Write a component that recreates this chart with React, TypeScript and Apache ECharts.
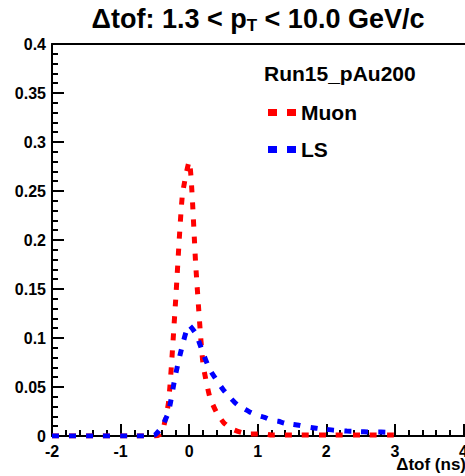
import React, { useEffect, useRef } from "react";
import * as echarts from "echarts";

const X_VALUES = [-2.0, -1.9, -1.8, -1.7, -1.6, -1.5, -1.4, -1.3, -1.2, -1.1, -1.0, -0.9, -0.8, -0.7, -0.6, -0.5, -0.4, -0.3, -0.2, -0.1, 0.0, 0.1, 0.2, 0.3, 0.4, 0.5, 0.6, 0.7, 0.8, 0.9, 1.0, 1.1, 1.2, 1.3, 1.4, 1.5, 1.6, 1.7, 1.8, 1.9, 2.0, 2.1, 2.2, 2.3, 2.4, 2.5, 2.6, 2.7, 2.8, 2.9, 3.0];

const MUON = [0, 0, 0, 0, 0, 0, 0, 0, 0, 0, 0, 0, 0, 0, 0, 0, 0.003, 0.035, 0.135, 0.245, 0.28, 0.17, 0.075, 0.04, 0.024, 0.014, 0.008, 0.005, 0.003, 0.002, 0.002, 0.002, 0.001, 0.001, 0.001, 0.001, 0.001, 0.001, 0.001, 0.001, 0.001, 0.001, 0.001, 0.001, 0.001, 0.001, 0.001, 0.001, 0.001, 0.001, 0.001];

const LS = [0, 0, 0, 0, 0, 0, 0, 0, 0, 0, 0, 0, 0, 0, 0, 0.001, 0.009, 0.025, 0.062, 0.092, 0.113, 0.104, 0.085, 0.068, 0.057, 0.047, 0.039, 0.032, 0.028, 0.024, 0.021, 0.019, 0.016, 0.015, 0.013, 0.012, 0.011, 0.0095, 0.0085, 0.0075, 0.0068, 0.006, 0.0055, 0.005, 0.0047, 0.0044, 0.0042, 0.004, 0.004, 0.0038, 0.0035];

const SERIES_NAMES = ["Muon", "LS"];
const LEGEND_HEADER = "Run15_pAu200";
const X_AXIS_TITLE = "Δtof (ns)";

const X_MIN = -2;
const X_MAX = 5;
const Y_MIN = 0;
const Y_MAX = 0.4;

const FONT = "'Liberation Sans', Arial, Helvetica, sans-serif";

export default function App() {
  const ref = useRef<HTMLDivElement>(null);
  useEffect(() => {
    if (!ref.current) return;
    const chart = echarts.init(ref.current, undefined, { renderer: "svg" });
    const pair = (ys: number[]) => X_VALUES.map((x, i) => [x, ys[i]]);
    const icon = "path://M0,0h9v7h-9z M19,0h9v7h-9z";
    const tickStyle = { color: "#000", width: 2 };

    chart.setOption({
      animation: false,
      backgroundColor: "#ffffff",
      textStyle: { fontFamily: FONT },
      grid: { left: 52, top: 44, width: 480, height: 392 },
      xAxis: [
        {
          type: "value",
          min: X_MIN,
          max: X_MAX,
          interval: 1,
          position: "bottom",
          axisLine: { show: true, onZero: false, lineStyle: { color: "#000", width: 2 } },
          axisTick: { show: true, inside: true, length: 12, lineStyle: tickStyle },
          minorTick: { show: true, splitNumber: 5, length: 6, lineStyle: tickStyle },
          splitLine: { show: false },
          axisLabel: { color: "#000", fontWeight: "bold", fontSize: 16, fontFamily: FONT, margin: 7 },
        },
        {
          type: "value",
          min: X_MIN,
          max: X_MAX,
          position: "top",
          axisLine: { show: true, onZero: false, lineStyle: { color: "#000", width: 2 } },
          axisTick: { show: false },
          axisLabel: { show: false },
          splitLine: { show: false },
        },
      ],
      yAxis: {
        type: "value",
        min: Y_MIN,
        max: Y_MAX,
        interval: 0.05,
        axisLine: { show: true, onZero: false, lineStyle: { color: "#000", width: 2 } },
        axisTick: { show: true, inside: true, length: 12, lineStyle: tickStyle },
        minorTick: { show: true, splitNumber: 5, length: 6, lineStyle: tickStyle },
        splitLine: { show: false },
        axisLabel: { color: "#000", fontWeight: "bold", fontSize: 16, fontFamily: FONT, margin: 6 },
      },
      legend: {
        orient: "vertical",
        left: 263,
        top: 97,
        itemWidth: 28,
        itemHeight: 7,
        itemGap: 16,
        textStyle: { color: "#000", fontWeight: "bold", fontSize: 21, fontFamily: FONT },
        data: SERIES_NAMES.map((n) => ({ name: n, icon })),
      },
      graphic: [
        {
          type: "text",
          x: 258,
          y: 4,
          style: {
            text: "{a|Δtof: 1.3 < p}{s|T}{a| < 10.0 GeV/c}",
            align: "center",
            verticalAlign: "top",
            rich: {
              a: { fontSize: 27, fontWeight: "bold", fontFamily: FONT, fill: "#000", lineHeight: 30, verticalAlign: "middle" },
              s: { fontSize: 17, fontWeight: "bold", fontFamily: FONT, fill: "#000", lineHeight: 16, verticalAlign: "bottom" },
            },
          },
        },
        {
          type: "text",
          x: 264,
          y: 63,
          style: { text: LEGEND_HEADER, fontSize: 21, fontWeight: "bold", fontFamily: FONT, fill: "#000" },
        },
        {
          type: "text",
          x: 466,
          y: 456,
          style: { text: X_AXIS_TITLE, align: "right", fontSize: 17, fontWeight: "bold", fontFamily: FONT, fill: "#000" },
        },
      ],
      series: [
        {
          name: SERIES_NAMES[0],
          type: "line",
          data: pair(MUON),
          showSymbol: false,
          smooth: 0.2,
          color: "#ff0000",
          lineStyle: { color: "#ff0000", width: 5, type: [7, 10] },
        },
        {
          name: SERIES_NAMES[1],
          type: "line",
          data: pair(LS),
          showSymbol: false,
          smooth: 0.2,
          color: "#0000ff",
          lineStyle: { color: "#0000ff", width: 5, type: [7, 10] },
        },
      ],
    });
    return () => chart.dispose();
  }, []);
  return (
    <div style={{ position: "fixed", left: 0, top: 0, width: 465, height: 476, overflow: "hidden", background: "#fff" }}>
      <div ref={ref} style={{ width: 540, height: 476 }} />
    </div>
  );
}
